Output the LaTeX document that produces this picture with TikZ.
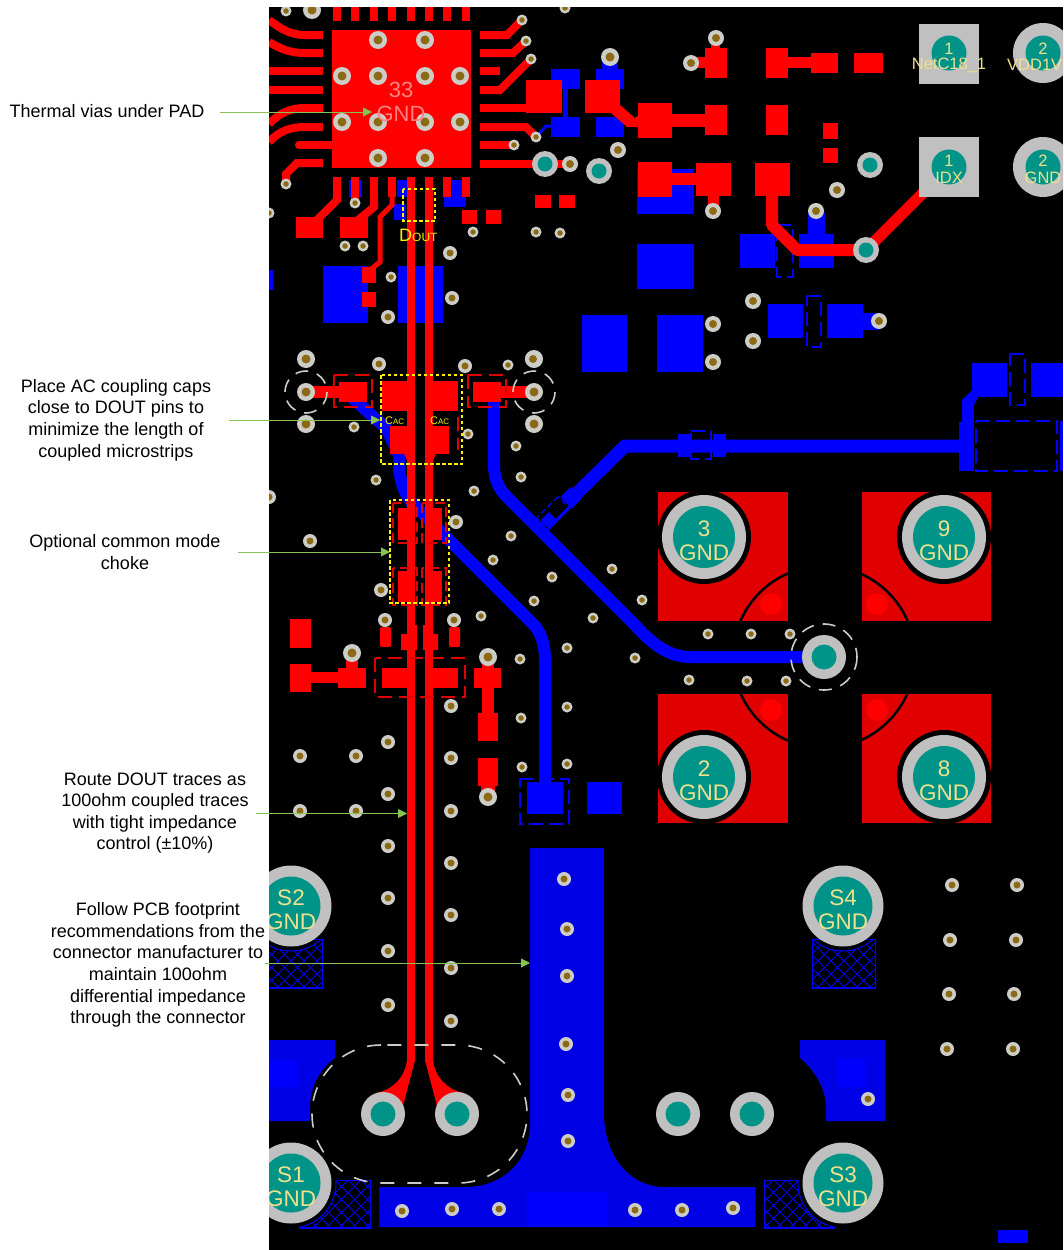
\documentclass[tikz,border=0pt]{standalone}
\usepackage{fontspec}
\setmainfont{Liberation Sans}
\definecolor{bdark}{RGB}{0,0,230}
\definecolor{bbright}{RGB}{0,0,255}
\definecolor{rbright}{RGB}{255,0,0}
\definecolor{rdark}{RGB}{224,0,0}
\definecolor{teal2}{RGB}{0,148,136}
\definecolor{ring}{RGB}{192,192,192}
\definecolor{vring}{RGB}{205,205,200}
\definecolor{hole}{RGB}{140,105,20}
\definecolor{pcbtxt}{RGB}{240,225,140}
\definecolor{pinktxt}{RGB}{255,130,130}
\definecolor{arrowg}{RGB}{135,195,80}
\newcommand{\smallvias}[2]{\foreach \vx/\vy in {#2} {\fill[vring] (\vx,\vy) circle[radius=#1]; \fill[hole] (\vx,\vy) circle[radius=#1*0.5];}}
\newcommand{\tealvias}[3]{\foreach \vx/\vy in {#3} {\fill[ring] (\vx,\vy) circle[radius=#1]; \fill[teal2] (\vx,\vy) circle[radius=#2];}}
\newcommand{\hatchlines}[4]{\foreach \k in {-120,-107,...,160} {
  \draw[blue,line width=0.8pt] (#1+\k,#3) -- (#1+\k+#4-#3,#4);
  \draw[blue,line width=0.8pt] (#2-\k,#3) -- (#2-\k-#4+#3,#4);}}
\usetikzlibrary{arrows.meta}
\tikzset{
 lab/.style={inner sep=0pt,align=center,text=black,font=\fontsize{18}{21.6}\selectfont},
 pt/.style={inner sep=0pt,text=pcbtxt},
 big/.style={pt,font=\fontsize{22.5}{24}\selectfont},
 mid/.style={pt,font=\fontsize{16.5}{18}\selectfont},
 ylab/.style={inner sep=0pt,text=yellow},
 box/.style={draw=yellow,line width=1.6pt,dash pattern=on 3.5pt off 2.5pt},
 clr/.style={draw=vring,line width=1.6pt,dash pattern=on 14pt off 13pt},
 clrs/.style={draw=vring,line width=1.6pt,dash pattern=on 13pt off 9pt},
 rout/.style={draw=rdark,line width=1.3pt,dash pattern=on 14pt off 7pt},
 bout/.style={draw=blue,line width=1.2pt,dash pattern=on 14pt off 6pt},
 rt/.style={draw=rbright,line width=8pt},
 bt/.style={draw=blue,line width=12pt},
 callout/.style={draw=arrowg,line width=0.9pt,-{Triangle[length=9pt,width=9pt,fill=arrowg]}}
}
\begin{document}
\begin{tikzpicture}[x=1pt,y=-1pt]
\useasboundingbox (0,0) rectangle (1063,1250);
\fill[white] (0,0) rectangle (1063,1250);
\begin{scope}
\clip (269,7) rectangle (1063,1250);
\fill[black] (269,7) rectangle (1063,1250);
% ---------- ground pads red layer
\foreach \a/\b/\c/\d in {658/492/788/621,862/492/991/621,658/694/788/823,862/694/991/823}
  \fill[rdark] (\a,\b) rectangle (\c,\d);
\begin{scope}
 \clip (658,492) rectangle (991,823);
 \draw[black,line width=2.5pt] (824,657) circle[radius=91];
\end{scope}
\fill[black] (788,480) rectangle (862,840);
\fill[black] (650,621) rectangle (1000,694);
\foreach \a/\b in {771/604,877/604,771/710,877/710} \fill[rbright] (\a,\b) circle[radius=11];
\foreach \a/\b in {704/537,944/537,704/777,944/777} \fill[black] (\a,\b) circle[radius=47];
% ---------- blue layer
\fill[bbright] (551,69) rectangle (580,89);
\fill[bbright] (551,117) rectangle (580,137);
\fill[bbright] (563,89) rectangle (568,117);
\fill[bbright] (596,69) rectangle (624,89);
\fill[bbright] (596,117) rectangle (624,137);
\fill[bbright] (602,62) rectangle (618,69);
\draw[blue,line width=3pt] (536,137) -- (546,126) -- (551,126);
\fill[bbright] (637,169) rectangle (694,214);
\fill[bbright] (637,244) rectangle (694,289);
\fill[bbright] (740,234) rectangle (775,268);
\fill[bbright] (799,234) rectangle (834,268);
\fill[bbright] (808,213) rectangle (825,234);
\fill[bbright] (768,304) rectangle (803,338);
\fill[bbright] (827,304) rectangle (863,338);
\fill[bbright] (863,313) rectangle (879,330);
\fill[bbright] (582,315) rectangle (627,372);
\fill[bbright] (657,315) rectangle (703,372);
\fill[bbright] (323,266) rectangle (368,323);
\fill[bbright] (398,266) rectangle (443,323);
\fill[bbright] (269,270) rectangle (273,290);
\fill[bbright] (397,180) rectangle (407,197);
\fill[bbright] (394,204) rectangle (406,220);
\fill[bbright] (349,180) rectangle (362,197);
\fill[bbright] (452,180) rectangle (462,197);
\fill[bbright] (444,197) rectangle (466,207);
\draw[bout] (777,225) -- (793,225) -- (793,277) -- (777,277) -- cycle;
\draw[bout] (807,296) -- (821,296) -- (821,347) -- (807,347) -- cycle;
\draw[bout] (1010,354) -- (1025,354) -- (1025,405) -- (1010,405) -- cycle;
\draw[bout] (976,421) -- (1057,421) -- (1057,471) -- (976,471) -- cycle;
\draw[bout] (691,431) -- (711,431) -- (711,459) -- (691,459) -- cycle;
\draw[bout] (520,779) -- (569,779) -- (569,824) -- (520,824) -- cycle;
% blue traces
\draw[bt,line join=round] (350,396) -- (386,428) -- (399,455) -- (399,470) .. controls (401,482) and (404,494) .. (413,504) -- (533,624) .. controls (541,632) and (545,645) .. (545,660) -- (545,790);
\draw[bt] (494,398) -- (494,465) .. controls (494,478) and (498,488) .. (507,497) -- (635,625) .. controls (650,642) and (668,657) .. (690,657) -- (805,657);
\draw[blue,line width=13pt] (545,525) -- (570,500) -- (625,446) -- (965,446);
\fill[bbright] (678,434) rectangle (691,457);
\fill[bbright] (713,434) rectangle (726,457);
\fill[black,rotate around={-45:(560,506)}] (552,494) rectangle (566,518);
\draw[bout,dash pattern=on 6pt off 3pt,rotate around={-45:(553,513)}] (545,498) rectangle (561,528);
\fill[bbright,rotate around={-45:(571,498)}] (563,491) rectangle (579,505);
\fill[bbright] (959,422) rectangle (974,471);
\fill[bbright] (962,400) -- (974,400) -- (974,422) -- (962,422) -- cycle;
\fill[bbright] (962,400) -- (972,390) -- (978,397) -- (974,405) -- cycle;
\fill[bbright] (972,363) rectangle (1007,397);
\fill[bbright] (1031,363) rectangle (1063,397);
\fill[bbright] (1060,421) rectangle (1063,471);
\fill[bbright] (527,782) rectangle (563,814);
\fill[bbright] (587,782) rectangle (622,814);
% T shaped plane
\fill[bdark] (530,848) -- (604,848) -- (604,1117) .. controls (606,1160) and (632,1187) .. (665,1187) -- (755,1187) -- (755,1227) -- (379,1227) -- (379,1187) -- (469,1187) .. controls (505,1185) and (530,1160) .. (530,1123) -- cycle;
\fill[bbright] (527,1192) rectangle (608,1227);
\fill[bdark] (269,1040) -- (335,1040) -- (335,1058) .. controls (318,1070) and (310,1090) .. (310,1107) -- (310,1121) -- (269,1121) -- cycle;
\fill[bbright] (269,1060) rectangle (297,1087);
\fill[bdark] (800,1040) -- (885,1040) -- (885,1121) -- (826,1121) -- (826,1107) .. controls (826,1090) and (815,1070) .. (800,1058) -- cycle;
\fill[bbright] (837,1059) rectangle (865,1087);
\fill[bbright] (998,1230) rectangle (1028,1243);
% hatches
\begin{scope}
 \clip (812,939) rectangle (876,988);
 \hatchlines{812}{876}{939}{988}
 \fill[black] (843,906) circle[radius=45];
 \draw[blue,line width=1.2pt] (812,939) rectangle (876,988);
 \draw[blue,line width=1pt] (843,906) circle[radius=45];
\end{scope}
\begin{scope}
 \clip (269,939) rectangle (323,988);
 \hatchlines{259}{323}{939}{988}
 \fill[black] (291,906) circle[radius=45];
 \draw[blue,line width=1.2pt] (259,939) rectangle (323,988);
 \draw[blue,line width=1pt] (291,906) circle[radius=45];
\end{scope}
\begin{scope}
 \clip (764,1180) rectangle (835,1228);
 \hatchlines{764}{835}{1180}{1228}
 \fill[black] (843,1183) circle[radius=45];
 \draw[blue,line width=1.2pt] (764,1228) -- (764,1180) -- (798,1180);
 \draw[blue,line width=1.2pt] (764,1228) -- (835,1228);
 \draw[blue,line width=1pt] (843,1183) circle[radius=45];
\end{scope}
\begin{scope}
 \clip (299,1180) rectangle (371,1228);
 \hatchlines{299}{371}{1180}{1228}
 \fill[black] (291,1183) circle[radius=45];
 \draw[blue,line width=1.2pt] (337,1180) -- (371,1180) -- (371,1228) -- (299,1228);
 \draw[blue,line width=1pt] (291,1183) circle[radius=45];
\end{scope}
% ---------- red copper: QFN
\fill[rbright] (332,30) rectangle (471,168);
\foreach \a in {337,355.3,374,392,411,429,447,466} {
  \fill[rbright] (\a-4,7) rectangle (\a+4,21);
  \fill[rbright] (\a-4,177) rectangle (\a+4,197);
}
\draw[rt] (269,20) .. controls (282,30) and (292,35) .. (305,35) -- (323,35);
\draw[rt] (269,42) .. controls (282,50) and (292,53) .. (305,53) -- (323,53);
\draw[rt] (269,71) -- (323,71);
\draw[rt] (269,90) -- (323,90);
\draw[rt] (269,124) .. controls (280,112) and (292,108) .. (305,108) -- (323,108);
\draw[rt] (269,142) .. controls (280,130) and (292,127) .. (305,127) -- (323,127);
\draw[rt,line cap=round] (299,145) -- (332,145);
\draw[rt] (323,163) -- (297,163) -- (286,174) -- (286,184);
\draw[rt] (480,35) -- (507,35) -- (522,20);
\draw[rt] (480,53) -- (513,53) -- (526,41);
\fill[rbright] (480,67) rectangle (500,75);
\draw[rt] (480,90) -- (500,90) -- (531,59);
\draw[rt] (480,108) -- (530,108);
\draw[rt] (480,127) -- (526,127) -- (536,137);
\draw[rt] (480,145) -- (514,145);
\draw[rt] (480,164) -- (545,164);
\draw[rt] (545,164) -- (570,164);
\fill[rbright] (526,80) rectangle (562,113);
\fill[rbright] (585,80) rectangle (620,113);
\fill[rbright] (613,105) -- (620,105) -- (635,118) -- (640,114) -- (640,127) -- (627,127) -- (611,113) -- cycle;
\fill[rbright] (638,103) rectangle (672,138);
\fill[rbright] (672,114) rectangle (705,127);
\fill[rbright] (705,105) rectangle (727,135);
\fill[rbright] (766,105) rectangle (788,135);
\fill[rbright] (705,48) rectangle (727,78);
\fill[rbright] (711,42) rectangle (720,48);
\fill[rbright] (691,57) rectangle (705,68);
\fill[rbright] (766,48) rectangle (788,78);
\fill[rbright] (788,57) rectangle (811,68);
\fill[rbright] (811,53) rectangle (838,73);
\fill[rbright] (854,53) rectangle (883,73);
\fill[rbright] (823,123) rectangle (838,139);
\fill[rbright] (823,148) rectangle (838,163);
\fill[rbright] (638,162) rectangle (672,197);
\fill[rbright] (672,173) rectangle (696,185);
\fill[rbright] (696,163) rectangle (731,196);
\fill[rbright] (708,196) rectangle (719,205);
\fill[rbright] (755,163) rectangle (790,196);
\draw[rbright,line width=12pt,line join=round] (772,196) -- (772,225) -- (797,250) -- (866,250);
\draw[rbright,line width=11pt] (866,250) -- (926,190);
\fill[rbright] (535,195) rectangle (551,208);
\fill[rbright] (559,195) rectangle (575,208);
\fill[rbright] (462,210) rectangle (477,224);
\fill[rbright] (486,210) rectangle (501,224);
\draw[rt] (337,197) -- (337,200) -- (317,220);
\fill[rbright] (296,217) rectangle (323,238);
\draw[rt] (355,197) -- (355,203);
\draw[rt] (374,197) -- (374,207) -- (358,220);
\fill[rbright] (340,217) rectangle (368,238);
\draw[rbright,line width=5pt] (392,197) -- (392,205) -- (380,217) -- (380,262) -- (370,270);
\fill[rbright] (362,267) rectangle (376,283);
\fill[rbright] (362,292) rectangle (376,307);
% differential pair and coupling caps
\draw[rt] (411,197) -- (411,1062);
\draw[rt] (429,197) -- (429,1062);
\fill[rbright] (382,381) rectangle (411,411);
\fill[rbright] (428,381) rectangle (458,411);
\fill[rbright] (407,372) -- (415,372) -- (411,381) -- cycle;
\fill[rbright] (425,372) -- (433,372) -- (433,381) -- cycle;
\fill[rbright] (390,426) rectangle (411,454);
\fill[rbright] (429,426) rectangle (449,454);
\fill[rbright] (404,454) -- (415,454) -- (415,468) -- (411,468) -- cycle;
\fill[rbright] (436,454) -- (425,454) -- (425,468) -- (429,468) -- cycle;
\fill[rbright] (339,382) rectangle (367,402);
\fill[rbright] (312,386) rectangle (339,398);
\fill[rbright] (473,382) rectangle (501,402);
\fill[rbright] (501,386) rectangle (528,398);
\draw[rout] (334,375) rectangle (372,407);
\draw[rout] (468,375) rectangle (506,407);
\draw[rout] (458,417) -- (458,450);
% choke
\fill[rbright] (398,508) rectangle (412,540);
\fill[rbright] (428,508) rectangle (442,540);
\fill[rbright] (398,571) rectangle (412,602);
\fill[rbright] (428,571) rectangle (442,602);
\fill[rbright] (407,498) -- (415,498) -- (415,508) -- (412,518) -- (407,518) -- cycle;
\fill[rbright] (425,498) -- (433,498) -- (433,518) -- (428,518) -- (425,508) -- cycle;
\draw[rout,dash pattern=on 10pt off 5pt] (393,503) rectangle (417,543);
\draw[rout,dash pattern=on 10pt off 5pt] (422,503) rectangle (446,543);
\draw[rout,dash pattern=on 10pt off 5pt] (393,568) rectangle (417,605);
\draw[rout,dash pattern=on 10pt off 5pt] (422,568) rectangle (446,605);
% lower parts
\fill[rbright] (290,619) rectangle (311,648);
\fill[rbright] (290,664) rectangle (311,692);
\fill[rbright] (311,672) rectangle (338,683);
\fill[rbright] (338,668) rectangle (366,688);
\fill[rbright] (346,655) rectangle (358,668);
\fill[rbright] (382,668) rectangle (408,688);
\fill[rbright] (432,668) rectangle (458,688);
\fill[rbright] (474,668) rectangle (501,688);
\fill[rbright] (482,660) rectangle (494,668);
\fill[rbright] (482,688) rectangle (494,713);
\fill[rbright] (478,713) rectangle (498,741);
\fill[rbright] (478,758) rectangle (498,786);
\fill[rbright] (481,786) rectangle (495,797);
\fill[rbright,rounded corners=2pt] (380,627) rectangle (391,647);
\fill[rbright,rounded corners=2pt] (449,627) rectangle (460,647);
\fill[rbright] (401,634) -- (407,634) -- (407,625) -- (417,625) -- (417,650) -- (401,650) -- cycle;
\fill[rbright] (423,625) -- (433,625) -- (433,634) -- (438,634) -- (438,650) -- (423,650) -- cycle;
\draw[rout] (375,658) rectangle (465,697);
% teardrops to connector vias
\fill[rbright] (407,1060) .. controls (405,1078) and (392,1090) .. (376,1093) -- (403,1106) -- (415,1060) -- cycle;
\fill[rbright] (433,1060) .. controls (435,1078) and (448,1090) .. (464,1093) -- (437,1106) -- (425,1060) -- cycle;
% clearance outlines
\draw[clr] (381,1045) .. controls (343,1045) and (312,1076) .. (312,1114) .. controls (312,1152) and (343,1183) .. (381,1183) -- (458,1183) .. controls (496,1183) and (527,1152) .. (527,1114) .. controls (527,1076) and (496,1045) .. (458,1045) -- (381,1045);
\draw[clrs] (306,392) circle[radius=21];
\draw[clrs] (534,392) circle[radius=21];
\draw[clrs] (824,657) circle[radius=33];
% ---------- connector square pads
\fill[ring] (919,24) rectangle (979,84);
\fill[ring] (919,137) rectangle (979,197);
\fill[teal2] (949,53) circle[radius=17.5];
\fill[teal2] (949,167) circle[radius=17.5];
\tealvias{30}{17.5}{1043/53,1043/167}
\tealvias{13}{7.5}{545/164,599/171,870/165,866/250}
\tealvias{22}{12.5}{824/657,383/1114,457/1114,678/1114,752/1114}
\tealvias{42}{31}{704/537,944/537,704/777,944/777}
\tealvias{40.5}{29.5}{843/906,843/1183,291/906,291/1183}
% ---------- vias
\smallvias{9}{378/40,425/40,342/76,378/76,425/76,460/76,342/122,378/122,425/122,460/122,378/158,425/158,312/10,610/57,306/359,306/392,306/424,534/359,534/392,534/424,352/653,488/657,488/797}
\smallvias{8}{716/38,691/63,570/164,618/150,713/211,816/211,837/190,753/301,753/341,713/324,713/362,879/321,533/359}
\smallvias{7}{450/253,452/298,388/317,379/364,465/366,310/541,381/590,385/620,454/620,451/706,388/742,300/756,356/756,451/758,388/794,300/811,356/811,451/811,388/846,451/863,388/898,451/915,451/968,388/951,388/1005,451/1021,564/879,567/929,567/976,566/1044,568/1095,568/1141,635/1210,682/1210,733/1208,402/1211,452/1209,499/1209,868/1099,952/885,1017/885,950/940,1016/940,949/994,1014/994,947/1049,1013/1049,456/522,269/497}
\smallvias{5.5}{286/11,565/8,522/20,526/41,531/59,536/137,514/145,286/184,355/203,473/232,536/232,560/233,345/246,363/246,391/277,269/213,508/365,354/427,468/434,516/446,376/480,521/477,474/491,511/536,493/560,552/577,534/601,481/616,593/618,612/569,642/600,567/648,520/659,635/658,521/718,567/707,522/767,567/764,708/634,751/634,790/634,689/680,747/681,786/681}
% ---------- yellow boxes
\draw[box] (403,189) rectangle (435,221);
\draw[box] (381,375) rectangle (462,464);
\draw[box] (390,500) rectangle (449,603);
% ---------- pcb text
\node[inner sep=0pt,text=pinktxt,font=\fontsize{22}{24}\selectfont] (t33) at (401,90) {33};
\node[inner sep=0pt,text=pinktxt,font=\fontsize{22}{24}\selectfont] (tgnd33) at (401,114) {GND};
\node[ylab,anchor=base west] (dout) at (399,241) {\fontsize{18}{20}\selectfont D\fontsize{12}{14}\selectfont OUT};
\node[ylab,anchor=base west] (cac1) at (385,424) {\fontsize{11}{12}\selectfont C\fontsize{8}{9}\selectfont AC};
\node[ylab,anchor=base west] (cac2) at (430,424) {\fontsize{11}{12}\selectfont C\fontsize{8}{9}\selectfont AC};
\node[mid] (a1) at (949,49) {1};
\node[mid] (a2) at (949,65) {NetC18\_1};
\node[mid] (b1) at (1043,49) {2};
\node[mid,anchor=west] (b2) at (1007,65) {VDD1V};
\node[mid] (c1) at (949,161) {1};
\node[mid] (c2) at (949,178) {IDX};
\node[mid] (d1) at (1043,161) {2};
\node[mid] (d2) at (1043,178) {GND};
\foreach \n/\x/\y/\u in {p3/704/537/3,p9/944/537/9,p2/704/777/2,p8/944/777/8,s4/843/906/S4,s3/843/1183/S3,s2/291/906/S2,s1/291/1183/S1} {
  \node[big] (\n a) at (\x,\y-8) {\u};
  \node[big] (\n b) at (\x,\y+16) {GND};
}
\end{scope}
% ---------- labels
\node[lab] (l1) at (107,111) {Thermal vias under PAD};
\node[lab] (l2) at (116,420) {Place AC coupling caps\\close to DOUT pins to\\minimize the length of\\coupled microstrips};
\node[lab] (l3) at (125,552) {Optional common mode\\choke};
\node[lab] (l4) at (155,813) {Route DOUT traces as\\100ohm coupled traces\\with tight impedance\\control (±10\%)};
\node[lab] (l5) at (158,965) {Follow PCB footprint\\recommendations from the\\connector manufacturer to\\maintain 100ohm\\differential impedance\\through the connector};
% ---------- callouts
\coordinate (s1) at (220,112); \coordinate (e1) at (372,112);
\coordinate (s2) at (229,420); \coordinate (e2) at (380,420);
\coordinate (s3) at (238,552); \coordinate (e3) at (390,552);
\coordinate (s4) at (256,813.5); \coordinate (e4) at (407,813.5);
\coordinate (s5) at (265,963); \coordinate (e5) at (530,963);
\foreach \i in {1,...,5} \draw[callout] (s\i) -- (e\i);
\end{tikzpicture}
\end{document}
